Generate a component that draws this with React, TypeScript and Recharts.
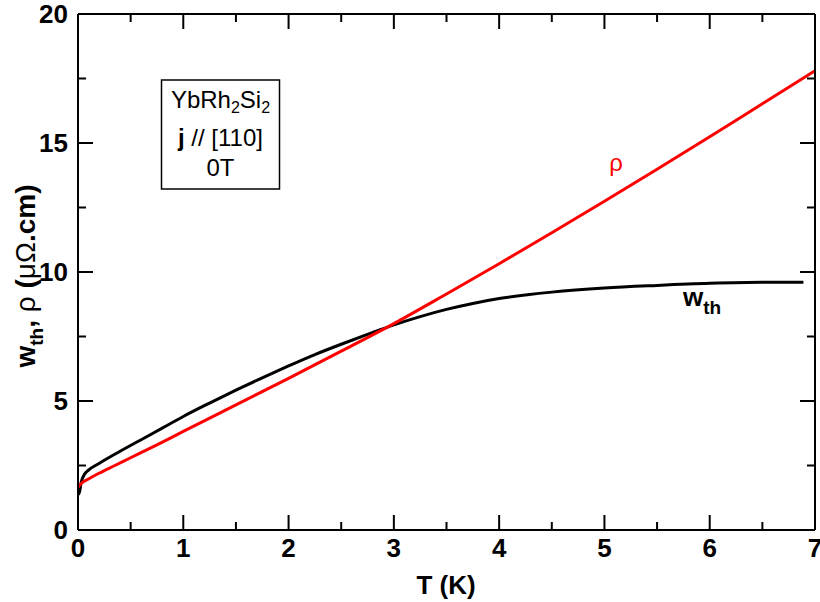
import React from "react";
import { LineChart, Line, XAxis, YAxis } from "recharts";

// temperature (K) and resistivity values
const rhoT = [0, 0.03, 0.1, 0.2, 0.35, 0.5, 0.75, 1, 1.5, 2, 2.5, 3, 3.5, 4, 4.5, 5, 5.5, 6, 6.5, 7];
const rhoValues = [1.65, 1.8, 1.98, 2.2, 2.5, 2.8, 3.3, 3.82, 4.85, 5.88, 6.93, 8.0, 9.15, 10.32, 11.52, 12.74, 13.98, 15.24, 16.52, 17.8];

const wT = [0, 0.01, 0.03, 0.06, 0.1, 0.2, 0.4, 0.6, 0.8, 1, 1.25, 1.5, 1.75, 2, 2.25, 2.5, 2.75, 3, 3.25, 3.5, 3.75, 4, 4.5, 5, 5.5, 6, 6.5, 6.89];
const wValues = [1.45, 1.4, 1.85, 2.15, 2.32, 2.58, 3.05, 3.5, 3.95, 4.4, 4.92, 5.42, 5.9, 6.36, 6.8, 7.2, 7.58, 7.95, 8.27, 8.55, 8.78, 8.97, 9.22, 9.38, 9.48, 9.56, 9.6, 9.6];

const xTicks = [0, 0.5, 1, 1.5, 2, 2.5, 3, 3.5, 4, 4.5, 5, 5.5, 6, 6.5, 7];
const yTicks = [0, 2.5, 5, 7.5, 10, 12.5, 15, 17.5, 20];

const rhoData = rhoT.map((T, i) => ({ T, v: rhoValues[i] }));
const wData = wT.map((T, i) => ({ T, v: wValues[i] }));

const FONT = "'Liberation Sans', Arial, sans-serif";

const BottomTick = (props: any) => {
  const { x, y, payload } = props;
  const v = payload.value;
  const major = Number.isInteger(v);
  return (
    <g>
      <line x1={x} x2={x} y1={y} y2={y - (major ? 15 : 8)} stroke="#000" strokeWidth={2} />
      {major && (
        <text x={x} y={y + 27} textAnchor="middle" fontSize={26} fontWeight="bold" fontFamily={FONT} fill="#000">
          {v}
        </text>
      )}
    </g>
  );
};

const TopTick = (props: any) => {
  const { x, y, payload } = props;
  const major = Number.isInteger(payload.value);
  return <line x1={x} x2={x} y1={y} y2={y + (major ? 15 : 8)} stroke="#000" strokeWidth={2} />;
};

const LeftTick = (props: any) => {
  const { x, y, payload } = props;
  const v = payload.value;
  const major = v % 5 === 0;
  return (
    <g>
      <line x1={x} x2={x + (major ? 15 : 8)} y1={y} y2={y} stroke="#000" strokeWidth={2} />
      {major && (
        <text x={x - 10} y={y + 9} textAnchor="end" fontSize={26} fontWeight="bold" fontFamily={FONT} fill="#000">
          {v}
        </text>
      )}
    </g>
  );
};

const RightTick = (props: any) => {
  const { x, y, payload } = props;
  const major = payload.value % 5 === 0;
  return <line x1={x} x2={x - (major ? 15 : 8)} y1={y} y2={y} stroke="#000" strokeWidth={2} />;
};

const axisLine = { stroke: "#000", strokeWidth: 2 };

export default function App() {
  return (
    <div style={{ position: "absolute", left: 0, top: 0, width: 820, height: 602, background: "#fff", fontFamily: FONT }}>
      <LineChart width={820} height={602} margin={{ top: 0, right: 0, bottom: 0, left: 0 }}>
        <XAxis xAxisId="b" type="number" dataKey="T" domain={[0, 7]} ticks={xTicks} interval={0}
          orientation="bottom" height={72} tickSize={0} tickMargin={0} tickLine={false}
          axisLine={axisLine} tick={<BottomTick />} allowDataOverflow />
        <XAxis xAxisId="t" type="number" dataKey="T" domain={[0, 7]} ticks={xTicks} interval={0}
          orientation="top" height={14} tickSize={0} tickMargin={0} tickLine={false}
          axisLine={axisLine} tick={<TopTick />} allowDataOverflow />
        <YAxis yAxisId="l" type="number" domain={[0, 20]} ticks={yTicks} interval={0}
          orientation="left" width={78} tickSize={0} tickMargin={0} tickLine={false}
          axisLine={axisLine} tick={<LeftTick />} allowDataOverflow />
        <YAxis yAxisId="r" type="number" domain={[0, 20]} ticks={yTicks} interval={0}
          orientation="right" width={5} tickSize={0} tickMargin={0} tickLine={false}
          axisLine={axisLine} tick={<RightTick />} allowDataOverflow />
        <Line xAxisId="b" yAxisId="l" data={wData} dataKey="v" type="monotone" stroke="#000"
          strokeWidth={3} dot={false} isAnimationActive={false} />
        <Line xAxisId="b" yAxisId="l" data={rhoData} dataKey="v" type="monotone" stroke="#ff0000"
          strokeWidth={3} dot={false} isAnimationActive={false} />
      </LineChart>
      <svg width={820} height={602} style={{ position: "absolute", left: 0, top: 0, pointerEvents: "none" }}
        fontFamily={FONT}>
        <text x={446} y={594} textAnchor="middle" fontSize={26} fontWeight="bold">T (K)</text>
        <text transform="translate(35,276) rotate(-90)" textAnchor="middle" fontSize={28} fontWeight="bold">
          <tspan>w</tspan>
          <tspan fontSize={19} dy={8}>th</tspan>
          <tspan dy={-8}>, </tspan>
          <tspan fontWeight="normal">ρ</tspan>
          <tspan> (</tspan>
          <tspan fontWeight="normal">μΩ</tspan>
          <tspan>.cm)</tspan>
        </text>
        <rect x={161.5} y={80} width={118} height={109} fill="#fff" stroke="#000" strokeWidth={1.5} />
        <text x={220.5} y={108} textAnchor="middle" fontSize={24}>
          <tspan>YbRh</tspan>
          <tspan fontSize={16} dy={5}>2</tspan>
          <tspan dy={-5}>Si</tspan>
          <tspan fontSize={16} dy={5}>2</tspan>
        </text>
        <text x={220.5} y={146} textAnchor="middle" fontSize={24}>
          <tspan fontWeight="bold">j</tspan>
          <tspan> // [110]</tspan>
        </text>
        <text x={220.5} y={176} textAnchor="middle" fontSize={24}>0T</text>
        <text x={616} y={171} textAnchor="middle" fontSize={24} fill="#ff0000">ρ</text>
        <text x={683} y={306} fontSize={26} fontWeight="bold">
          <tspan>w</tspan>
          <tspan fontSize={19} dy={8}>th</tspan>
        </text>
      </svg>
    </div>
  );
}
